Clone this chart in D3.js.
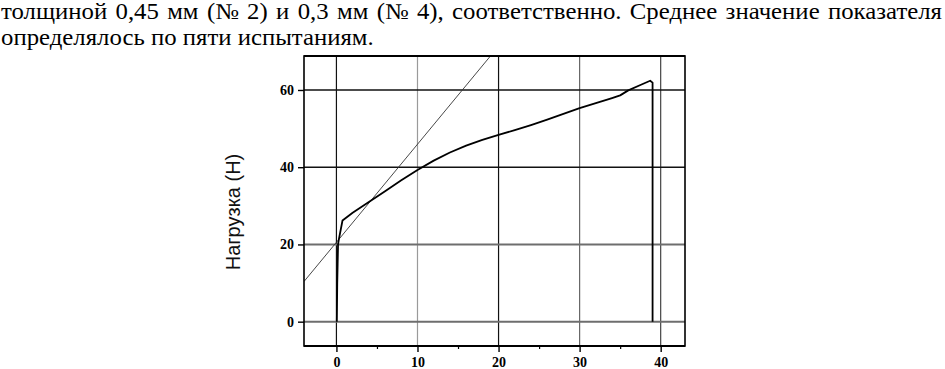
<!DOCTYPE html>
<html>
<head>
<meta charset="utf-8">
<script src="https://cdn.jsdelivr.net/npm/d3@7"></script>
<style>
  body { margin: 0; background: #fff; }
  svg { display: block; }
</style>
</head>
<body>
<svg id="chart" width="945" height="369"></svg>
<script>
// text above the figure (scanned page)
const pageLines = [
    "толщиной 0,45 мм (№ 2) и 0,3 мм (№ 4), соответственно. Среднее значение показателя",
    "определялось по пяти испытаниям."
];

// load curve: elongation (x) vs load in N (y)
const curveX = [0.05, 0.1, 0.15, 0.2, 0.3, 0.75, 2, 4, 6, 8, 10, 12, 14, 16, 18, 20, 22, 24, 26, 28, 30, 32, 34, 35, 36, 37.5, 38.7, 39.0, 39.0];
const curveY = [0, 10, 15, 20, 21.3, 26.2, 28.2, 31, 33.8, 36.6, 39.3, 41.7, 43.8, 45.6, 47.1, 48.4, 49.6, 50.9, 52.3, 53.8, 55.3, 56.6, 57.9, 58.6, 59.9, 61.3, 62.4, 61.9, 0];

// the thin straight reference line
const tangentX = [-4, 19];
const tangentY = [10.4, 68.8];

const xTicks = [0, 10, 20, 30, 40];
const xMinorTicks = [5, 15, 25, 35];
const yTicks = [0, 20, 40, 60];
const yLabel = "Нагрузка (Н)";

const svg = d3.select("#chart");

// page text; fit the second line to its width in the scan
const page = svg.append("g")
    .attr("font-family", "'Liberation Serif', 'Times New Roman', serif")
    .attr("font-size", 22.5)
    .attr("fill", "#000");

const line1 = page.append("text").attr("x", 1).attr("y", 19).text(pageLines[0]);
const line2 = page.append("text").attr("x", 1).attr("y", 45).text(pageLines[1]);

const sx = 373 / line2.node().getComputedTextLength();
page.attr("transform", `scale(${sx},1)`);
line1.attr("x", 1 / sx);
line2.attr("x", 1 / sx);

// first line is justified: widen (or narrow) the word gaps only
const gaps = pageLines[0].split(" ").length - 1;
const extra = (941 / sx - line1.node().getComputedTextLength()) / gaps;
line1.attr("word-spacing", extra);

// plot area
const pLeft = 304, pRight = 685, pTop = 56, pBottom = 346;

const x = d3.scaleLinear().domain([-4, 43]).range([pLeft, pRight]);
const y = d3.scaleLinear().domain([-6.3, 68.8]).range([pBottom, pTop]);

svg.append("clipPath").attr("id", "plotclip")
  .append("rect")
    .attr("x", pLeft).attr("y", pTop)
    .attr("width", pRight - pLeft).attr("height", pBottom - pTop);

// grid (the scan makes some lines greyer than others)
const vGridColor = v => (v === 10 ? "#9a9a9a" : v === 30 ? "#666" : v === 40 ? "#444" : "#111");
const hGridColor = v => (v >= 40 ? "#111" : "#6e6e6e");

svg.append("g").selectAll("line")
    .data(xTicks)
    .join("line")
    .attr("x1", d => x(d)).attr("x2", d => x(d))
    .attr("y1", pTop).attr("y2", pBottom)
    .attr("stroke", vGridColor)
    .attr("stroke-width", 1.2);

svg.append("g").selectAll("line")
    .data(yTicks)
    .join("line")
    .attr("x1", pLeft).attr("x2", pRight)
    .attr("y1", d => y(d)).attr("y2", d => y(d))
    .attr("stroke", hGridColor)
    .attr("stroke-width", d => (d >= 40 ? 1.4 : 2));

// straight line
svg.append("path")
    .datum(d3.zip(tangentX, tangentY))
    .attr("clip-path", "url(#plotclip)")
    .attr("fill", "none")
    .attr("stroke", "#333")
    .attr("stroke-width", 0.9)
    .attr("d", d3.line().x(d => x(d[0])).y(d => y(d[1])));

// load curve
svg.append("path")
    .datum(d3.zip(curveX, curveY))
    .attr("fill", "none")
    .attr("stroke", "#000")
    .attr("stroke-width", 1.8)
    .attr("stroke-linejoin", "round")
    .attr("d", d3.line().x(d => x(d[0])).y(d => y(d[1])));

// frame
svg.append("rect")
    .attr("x", pLeft).attr("y", pTop)
    .attr("width", pRight - pLeft).attr("height", pBottom - pTop)
    .attr("fill", "none")
    .attr("stroke", "#000")
    .attr("stroke-width", 1.6);
svg.append("line")
    .attr("x1", pLeft).attr("x2", pRight)
    .attr("y1", pTop).attr("y2", pTop)
    .attr("stroke", "#000").attr("stroke-width", 2.2);
svg.append("line")
    .attr("x1", pLeft).attr("x2", pRight)
    .attr("y1", pBottom).attr("y2", pBottom)
    .attr("stroke", "#000").attr("stroke-width", 2.2);

// axes
const tickFont = g => g.selectAll("text")
    .attr("font-family", "'Liberation Serif', 'Times New Roman', serif")
    .attr("font-weight", "bold")
    .attr("font-size", 14)
    .attr("fill", "#000");

svg.append("g")
    .attr("transform", `translate(0,${pBottom})`)
    .call(d3.axisBottom(x).tickValues(xTicks).tickSize(6).tickPadding(5))
    .call(g => g.select(".domain").remove())
    .call(g => g.selectAll("line").attr("stroke", "#000").attr("stroke-width", 1.4))
    .call(tickFont);

svg.append("g")
    .attr("transform", `translate(0,${pBottom})`)
    .call(d3.axisBottom(x).tickValues(xMinorTicks).tickSize(3).tickFormat(""))
    .call(g => g.select(".domain").remove())
    .call(g => g.selectAll("line").attr("stroke", "#000").attr("stroke-width", 1.2));

svg.append("g")
    .attr("transform", `translate(${pLeft},0)`)
    .call(d3.axisLeft(y).tickValues(yTicks).tickSize(6).tickPadding(4))
    .call(g => g.select(".domain").remove())
    .call(g => g.selectAll("line").attr("stroke", "#000").attr("stroke-width", 1.4))
    .call(tickFont);

// y axis title
svg.append("text")
    .attr("transform", "translate(240,212) rotate(-90)")
    .attr("text-anchor", "middle")
    .attr("font-family", "'Liberation Sans', Arial, sans-serif")
    .attr("font-size", 20)
    .attr("fill", "#111")
    .text(yLabel);
</script>
</body>
</html>
